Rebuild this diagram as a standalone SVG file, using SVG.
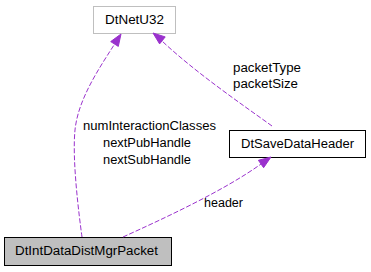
<svg xmlns="http://www.w3.org/2000/svg" width="371" height="272" viewBox="0 0 371 272">
<style>
text{font-family:"Liberation Sans",Arial,sans-serif;font-size:12px;fill:#000}
.node text{text-anchor:middle}
.edge{fill:none;stroke:#9a32cd;stroke-dasharray:5,2}
.ah{fill:#9a32cd;stroke:#9a32cd}
</style>
<rect width="371" height="272" fill="#fff"/>
<g id="node-DtNetU32" class="node">
<rect x="93.5" y="6.5" width="82" height="27" fill="#fff" stroke="#bfbfbf"/>
<text x="134.5" y="24" textLength="59" lengthAdjust="spacingAndGlyphs">DtNetU32</text>
</g>
<g id="node-DtSaveDataHeader" class="node">
<rect x="229.5" y="130.5" width="136" height="27" fill="#fff" stroke="#000"/>
<text x="297.5" y="148" textLength="113" lengthAdjust="spacingAndGlyphs">DtSaveDataHeader</text>
</g>
<g id="node-DtIntDataDistMgrPacket" class="node">
<rect x="4.5" y="237.5" width="167" height="28" fill="#bfbfbf" stroke="#000"/>
<text x="86.5" y="255" textLength="143" lengthAdjust="spacingAndGlyphs">DtIntDataDistMgrPacket</text>
</g>
<g id="connectors">
<path class="edge" d="M82,237 C79,215 72,160 75,130 C78,100 98,70 114,45"/>
<polygon class="ah" points="110.7,41.6 121,34 118.3,46.4"/>
<path class="edge" d="M272,126 C240,103 195,72 162,41"/>
<polygon class="ah" points="159.6,43.9 153,33 165.2,36.9"/>
<path class="edge" d="M123,237 C165,218 225,190 261,164"/>
<polygon class="ah" points="258.4,160.3 271,157 263.6,167.7"/>
<text x="83" y="130" textLength="133" lengthAdjust="spacingAndGlyphs">numInteractionClasses</text>
<text x="103" y="147" textLength="88" lengthAdjust="spacingAndGlyphs">nextPubHandle</text>
<text x="103" y="164" textLength="88" lengthAdjust="spacingAndGlyphs">nextSubHandle</text>
<text x="233" y="72" textLength="68" lengthAdjust="spacingAndGlyphs">packetType</text>
<text x="233" y="88" textLength="65" lengthAdjust="spacingAndGlyphs">packetSize</text>
<text x="204" y="207" textLength="39" lengthAdjust="spacingAndGlyphs">header</text>
</g>
</svg>
